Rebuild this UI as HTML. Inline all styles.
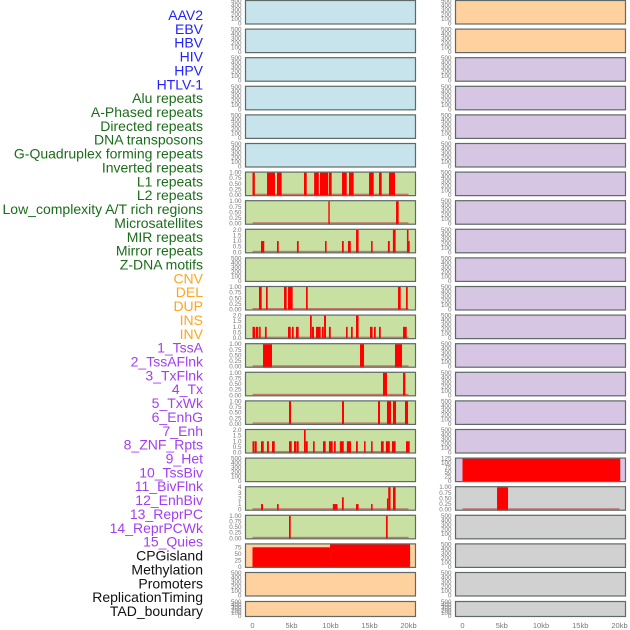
<!DOCTYPE html>
<html><head><meta charset="utf-8"><style>
html,body{margin:0;padding:0;background:#fff;width:630px;height:630px;overflow:hidden}
svg{display:block;font-family:"Liberation Sans",sans-serif}
</style></head><body>
<svg id="chart" width="630" height="630" viewBox="0 0 630 630"></svg>
<script>
// ---- data ----
const trackLabels = ["AAV2","EBV","HBV","HIV","HPV","HTLV-1","Alu repeats","A-Phased repeats","Directed repeats","DNA transposons","G-Quadruplex forming repeats","Inverted repeats","L1 repeats","L2 repeats","Low_complexity A/T rich regions","Microsatellites","MIR repeats","Mirror repeats","Z-DNA motifs","CNV","DEL","DUP","INS","INV","1_TssA","2_TssAFlnk","3_TxFlnk","4_Tx","5_TxWk","6_EnhG","7_Enh","8_ZNF_Rpts","9_Het","10_TssBiv","11_BivFlnk","12_EnhBiv","13_ReprPC","14_ReprPCWk","15_Quies","CPGisland","Methylation","Promoters","ReplicationTiming","TAD_boundary"];
const labelGroups = ["v","v","v","v","v","v","r","r","r","r","r","r","r","r","r","r","r","r","r","s","s","s","s","s","c","c","c","c","c","c","c","c","c","c","c","c","c","c","c","k","k","k","k","k"];
const xTickValues = [0,5,10,15,20];
const xTickLabels = ["0","5kb","10kb","15kb","20kb"];
const ticksEmpty = [0,100,200,300,400,500];
const ticksUnit = [0,0.25,0.5,0.75,1];
const ticksTwo = [0,0.5,1,1.5,2];
const ticksFour = [0,1,2,3,4];
const ticksCpg = [0,25,50,75];
const ticksBiv = [0,25,50,75,100,125];
const leftFills = ["blue","blue","blue","blue","blue","blue","green","green","green","green","green","green","green","green","green","green","green","green","green","orange","orange","orange"];
const rightFills = ["orange","orange","purple","purple","purple","purple","purple","purple","purple","purple","purple","purple","purple","purple","purple","purple","purple","gray","gray","gray","gray","gray"];
// bars: [startKb, endKb, value]
const barsL1 = [[0,0.3,1],[1.86,2.88,1],[3.14,3.74,1],[6.6,6.95,1],[7.9,8.5,1],[8.65,9.7,1],[9.8,10.15,1],[11.47,12.08,1],[12.37,12.97,1],[14.94,15.54,1],[16.22,16.56,1],[17.5,18.27,1]];
const barsLowAT = [[9.72,9.9,1],[18.4,18.74,1]];
const barsMIR = [[1.09,1.51,1],[3.14,3.36,1],[5.7,5.92,1],[9.3,9.5,1],[11.47,11.7,1],[12.24,12.6,1],[13.27,13.6,2],[15.2,15.4,1],[17.36,17.6,1],[18.0,18.35,2],[19.8,20.0,2],[20.0,20.15,1]];
const barsRow10 = [[0.83,1.18,1],[1.73,1.95,1],[4.04,4.38,1],[4.55,5.15,1],[6.86,7.08,1],[18.65,19.0,1],[19.68,19.9,1]];
const barsRow11 = [[0,0.35,1],[0.45,0.75,1],[0.85,1.05,1],[1.6,1.82,1],[4.55,4.9,1],[5.06,5.28,1],[5.57,5.92,1],[7.37,7.6,2],[7.63,7.88,1],[8.14,8.74,1],[8.9,9.13,1],[9.17,9.42,2],[9.8,10.03,1],[11.99,12.2,1],[12.63,12.85,1],[13.27,13.6,2],[15.06,15.4,1],[15.58,15.8,1],[16.22,16.44,1],[19.3,19.77,1]];
const barsTssA = [[1.35,2.5,1],[13.78,14.3,1],[18.27,19.17,1]];
const barsTxFlnk = [[16.73,17.24,1],[19.3,19.6,1]];
const barsTx = [[4.68,4.94,1],[11.47,11.73,1],[16.09,16.35,1],[17.24,17.76,1],[18.01,18.4,1],[19.55,19.94,1]];
const barsEnh = [[0,0.25,1],[0.3,0.54,1],[1.09,1.44,1],[1.86,2.1,1],[2.5,2.85,1],[4.68,5.03,1],[5.32,5.6,1],[5.65,5.92,1],[6.6,6.82,2],[6.82,7.08,1],[7.76,7.97,1],[9.04,9.38,1],[9.8,10.28,1],[10.45,10.67,1],[11.2,11.7,1],[12.1,12.63,1],[13.27,13.5,1],[14.3,14.5,1],[15.2,15.4,1],[16.47,16.82,1],[17.1,17.6,1],[17.88,18.35,1],[19.68,20.15,1]];
const barsRow17 = [[1.09,1.35,1],[3.14,3.36,1],[10.3,10.9,1],[11.47,11.7,2.2],[13.27,13.6,1],[15.2,15.4,1],[17.24,17.4,2],[17.4,17.7,4],[18.01,18.35,4]];
const barsRow18 = [[4.68,4.9,1],[17.11,17.33,1]];
const barsCpg = [[0,9.94,75],[9.94,20.2,86]];
const barsBivR = [[0,20.1,125]];
const barsEnhBivR = [[4.4,5.8,1]];

// left panel specs: [ymax, ticks, bars]
const leftData = [null,null,null,null,null,null,
  [1,ticksUnit,barsL1],[1,ticksUnit,barsLowAT],[2,ticksTwo,barsMIR],null,
  [1,ticksUnit,barsRow10],[2,ticksTwo,barsRow11],[1,ticksUnit,barsTssA],[1,ticksUnit,barsTxFlnk],
  [1,ticksUnit,barsTx],[2,ticksTwo,barsEnh],null,[4,ticksFour,barsRow17],[1,ticksUnit,barsRow18],
  [86,ticksCpg,barsCpg],null,null];
const rightData = [];
rightData[16] = [125,ticksBiv,barsBivR];
rightData[17] = [1,ticksUnit,barsEnhBivR];

// ---- drawing ----
const NS="http://www.w3.org/2000/svg";
const svg=document.getElementById('chart');
function mk(tag,attrs,parent){const e=document.createElementNS(NS,tag);for(const k in attrs)e.setAttribute(k,attrs[k]);(parent||svg).appendChild(e);return e;}
const fills={blue:"#c7e3eb",green:"#c8e1a3",orange:"#ffd19e",purple:"#d6c6e3",gray:"#d1d1d1"};
const labelColors={v:"#2222ff",r:"#1b6d1b",s:"#ffa51f",c:"#a23ff0",k:"#111"};
trackLabels.forEach((t,i)=>{
  const el=mk('text',{x:203,y:20+i*13.86,'text-anchor':'end','font-size':'14',fill:labelColors[labelGroups[i]]});
  el.textContent=t;
  
  
});
function rowTop(r){return r<21? r*28.6 : 601;}
function rowH(r){return r<21? 24.5 : 16;}
function drawPanel(col,r,fill,spec){
  const x0=col===0?245:455, x1=col===0?416:626;
  const ox=col===0?252.5:462.5, kx=col===0?7.8:7.85;
  const xs=kb=>ox+kb*kx;
  const y0=rowTop(r), h=rowH(r);
  const g=mk('g',{});
  
  
  mk('rect',{x:x0,y:y0,width:x1-x0,height:h,fill:fills[fill]},g);
  const ymax=spec?spec[0]:500, ticks=spec?spec[1]:ticksEmpty;
  const pb=y0+h-1, pt=y0+1;
  const ys=v=>pb-(v/ymax)*(pb-pt);
  ticks.forEach(t=>{
    const lab=ymax===1?t.toFixed(2):(ymax===2?t.toFixed(1):String(t));
    const tx=mk('text',{x:x0-3.5,y:ys(t)+2,'text-anchor':'end','font-size':'6.3',fill:'#777'},g);
    tx.textContent=lab;
    
    
  });
  if(spec){
    mk('rect',{x:xs(0),y:pb-1.5,width:xs(20)-xs(0),height:1.5,fill:'#c0504d',opacity:0.7},g);
    spec[2].forEach(b=>{
      const yt=ys(Math.min(b[2],ymax));
      const bar=mk('rect',{x:xs(b[0]),y:yt,width:Math.max(0.8,xs(b[1])-xs(b[0])),height:pb+1-yt,fill:'#ff0000'},g);
      
      
    });
  }
  mk('rect',{x:x0+0.5,y:y0+0.5,width:x1-x0-1,height:h-1,fill:'none',stroke:'#5f6a66','stroke-width':1.2},g);
}
leftFills.forEach((f,r)=>drawPanel(0,r,f,leftData[r]));
rightFills.forEach((f,r)=>drawPanel(1,r,f,rightData[r]));
[0,1].forEach(col=>{
  const ox=col===0?252.5:462.5, kx=col===0?7.8:7.85;
  xTickValues.forEach((v,i)=>{
    const t=mk('text',{x:ox+v*kx,y:628,'text-anchor':'middle','font-size':'7.5',fill:'#777'});
    t.textContent=xTickLabels[i];
    
    
  });
});
</script>
</body></html>
